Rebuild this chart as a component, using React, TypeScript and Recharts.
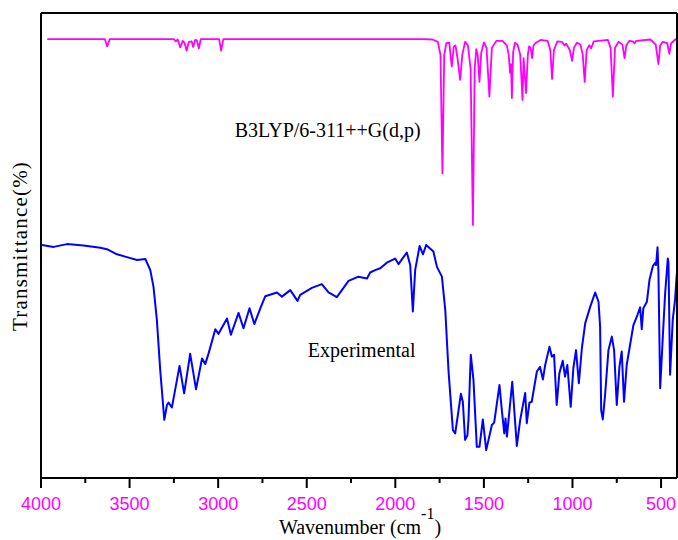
import React from 'react';
import { LineChart, Line, XAxis, YAxis, ReferenceDot } from 'recharts';

// Wavenumber (cm-1), transmittance (arbitrary %)
const calculated: [number, number][] = [
  [3965, 94.4], [3640, 94.4], [3626, 92.8], [3612, 94.4],
  [3250, 94.4], [3239, 93.9], [3228, 94.3], [3214, 92.6], [3200, 94.0], [3190, 93.6],
  [3178, 91.9], [3165, 93.8], [3150, 93.9], [3141, 92.7], [3130, 94.2], [3120, 94.1],
  [3109, 92.4], [3098, 94.4], [2995, 94.4], [2983, 91.9], [2971, 94.4],
  [1840, 94.4], [1790, 94.3], [1760, 93.8], [1745, 91.0], [1734, 65.5], [1724, 91.0],
  [1712, 93.5], [1695, 93.6], [1686, 90.0], [1681, 88.5], [1676, 90.5], [1670, 92.8],
  [1660, 93.0], [1648, 90.0], [1634, 85.6], [1622, 91.0], [1606, 93.8], [1590, 93.0],
  [1575, 88.0], [1562, 54.4], [1552, 88.0], [1543, 92.2], [1535, 91.0], [1525, 85.2],
  [1515, 91.5], [1500, 93.7], [1485, 92.5], [1469, 82.0], [1455, 92.5], [1430, 94.0],
  [1395, 94.0], [1370, 93.0], [1360, 91.0], [1352, 87.1], [1347, 89.0], [1342, 81.7],
  [1335, 91.5], [1325, 93.6], [1310, 93.2], [1295, 91.0], [1282, 81.3], [1276, 90.3],
  [1262, 82.8], [1252, 91.0], [1245, 92.8], [1236, 92.5], [1228, 90.3], [1220, 93.0],
  [1210, 93.5], [1180, 94.2], [1140, 94.0], [1125, 92.0], [1115, 85.8], [1105, 92.0],
  [1085, 93.9], [1060, 93.8], [1045, 93.0], [1035, 93.4], [1015, 92.0], [1002, 89.7],
  [992, 92.5], [975, 93.6], [955, 93.2], [942, 91.0], [931, 85.2], [920, 92.0],
  [905, 93.1], [895, 92.4], [880, 93.9], [800, 94.2], [785, 92.5], [772, 82.0],
  [760, 92.5], [740, 93.8], [718, 93.2], [706, 90.3], [696, 93.0], [680, 94.0],
  [660, 93.9], [650, 93.5], [640, 94.0], [560, 94.3], [530, 93.2], [515, 89.0],
  [505, 93.0], [490, 93.8], [465, 93.5], [453, 91.2], [443, 93.5], [420, 94.3], [411, 94.3],
];

const experimental: [number, number][] = [
  [3994, 50.1], [3929, 49.7], [3853, 50.3], [3760, 50.0], [3665, 49.5], [3628, 49.2],
  [3571, 48.1], [3515, 47.5], [3458, 46.9], [3411, 47.1], [3383, 44.7], [3365, 41.1],
  [3346, 34.0], [3327, 23.2], [3304, 12.5], [3289, 15.7], [3280, 16.2], [3261, 15.2],
  [3218, 24.1], [3192, 18.2], [3158, 26.7], [3125, 19.1], [3091, 25.7], [3073, 24.5],
  [3054, 26.8], [3016, 32.0], [2998, 31.0], [2950, 34.3], [2928, 30.8], [2885, 35.5],
  [2857, 32.2], [2823, 36.5], [2796, 33.1], [2762, 36.5], [2734, 39.1], [2668, 39.9],
  [2640, 39.0], [2593, 40.4], [2552, 38.1], [2537, 39.4], [2471, 40.9], [2415, 41.7],
  [2377, 39.9], [2330, 38.9], [2264, 42.4], [2208, 43.3], [2160, 42.9], [2142, 44.2],
  [2114, 44.7], [2085, 45.1], [2048, 46.3], [2001, 47.2], [1982, 46.0], [1935, 48.5],
  [1916, 45.8], [1901, 35.8], [1888, 44.7], [1863, 49.9], [1844, 48.1], [1826, 50.1],
  [1785, 48.7], [1765, 45.4], [1737, 43.3], [1718, 36.1], [1700, 23.2], [1675, 10.3],
  [1662, 9.6], [1644, 14.3], [1630, 18.1], [1619, 16.4], [1606, 8.2], [1593, 9.2],
  [1587, 12.5], [1574, 26.5], [1559, 21.1], [1540, 6.7], [1525, 6.7], [1506, 12.6],
  [1487, 6.0], [1455, 11.4], [1442, 11.9], [1412, 20.0], [1398, 14.3], [1385, 9.6],
  [1378, 12.8], [1370, 8.9], [1340, 20.7], [1314, 6.9], [1295, 12.5], [1267, 18.3],
  [1258, 11.8], [1243, 16.2], [1230, 16.4], [1201, 22.9], [1183, 23.9], [1167, 21.2],
  [1154, 24.3], [1130, 28.2], [1116, 26.1], [1104, 26.5], [1089, 15.7], [1074, 22.5],
  [1055, 25.2], [1042, 21.8], [1029, 24.3], [1010, 15.3], [995, 23.6], [980, 27.5],
  [964, 20.4], [947, 27.9], [928, 33.3], [900, 36.8], [872, 39.9], [853, 37.9],
  [844, 32.5], [838, 14.6], [829, 12.6], [816, 17.8], [797, 27.5], [778, 30.4],
  [765, 27.5], [750, 15.7], [735, 23.9], [722, 27.2], [709, 16.4], [694, 24.3],
  [675, 28.6], [656, 32.9], [633, 35.1], [618, 36.7], [609, 32.0], [600, 36.5],
  [580, 37.9], [565, 42.7], [546, 45.6], [533, 46.3], [528, 45.8], [520, 49.6],
  [515, 44.7], [505, 19.3], [490, 30.4], [477, 39.7], [462, 47.2], [458, 46.2],
  [449, 22.2], [434, 34.0], [421, 38.3], [411, 44.0],
];

const xTicks = [4000, 3750, 3500, 3250, 3000, 2750, 2500, 2250, 2000, 1750, 1500, 1250, 1000, 750, 500];
const xDomain: [number, number] = [410, 4000];
const calcLabel = 'B3LYP/6-311++G(d,p)';
const expLabel = 'Experimental';

const calcData = calculated.map(([w, t]) => ({ w, t }));
const expData = experimental.map(([w, t]) => ({ w, t }));

const serif = '"Liberation Serif", "Times New Roman", serif';
const sans = '"Liberation Sans", Arial, sans-serif';

const XTick = (props: any) => {
  const { x, y, payload } = props;
  const major = payload.value % 500 === 0;
  return (
    <g>
      <line x1={x} y1={y} x2={x} y2={y + (major ? 10 : 5)} stroke="#000" strokeWidth={2} />
      {major && (
        <text x={x} y={y + 19} dy="0.71em" textAnchor="middle" fill="#ff00ff" fontSize={18} fontFamily={sans}>
          {payload.value}
        </text>
      )}
    </g>
  );
};

const XLabel = () => (
  <text x={360} y={534} textAnchor="middle" fontSize={20} fontFamily={serif} fill="#000">
    Wavenumber (cm
    <tspan dy={-15} fontSize={16}>-1</tspan>
    <tspan dy={15}>)</tspan>
  </text>
);

const YLabel = () => (
  <text x={0} y={0} transform="translate(27,246) rotate(-90)" textAnchor="middle" fontSize={21} letterSpacing={1.2} fontFamily={serif} fill="#000">
    Transmittance(%)
  </text>
);

const TextLabel = (text: string) => (props: any) => {
  const { viewBox } = props;
  const cx = viewBox.x + (viewBox.width || 0) / 2;
  const cy = viewBox.y + (viewBox.height || 0) / 2;
  return (
    <text x={cx} y={cy} dy="0.35em" textAnchor="middle" fontSize={20} fontFamily={serif} fill="#000">
      {text}
    </text>
  );
};

export default function App() {
  return (
    <div style={{ position: 'absolute', left: 0, top: 0, background: '#fff' }}>
      <LineChart width={678} height={540} margin={{ top: 12, right: 0, bottom: 0, left: 0 }}>
        <XAxis
          xAxisId="b"
          type="number"
          dataKey="w"
          domain={xDomain}
          reversed
          ticks={xTicks}
          interval={0}
          tickSize={0}
          tickMargin={0}
          tick={<XTick />}
          tickLine={false}
          axisLine={{ stroke: '#000', strokeWidth: 2 }}
          height={62}
          label={<XLabel />}
        />
        <XAxis
          xAxisId="t"
          orientation="top"
          type="number"
          dataKey="w"
          domain={xDomain}
          reversed
          tick={false}
          tickLine={false}
          axisLine={{ stroke: '#000', strokeWidth: 2 }}
          height={1}
        />
        <YAxis
          yAxisId="l"
          type="number"
          domain={[0, 100]}
          tick={false}
          tickLine={false}
          axisLine={{ stroke: '#000', strokeWidth: 2 }}
          width={41}
          label={<YLabel />}
        />
        <YAxis
          yAxisId="r"
          orientation="right"
          type="number"
          domain={[0, 100]}
          tick={false}
          tickLine={false}
          axisLine={{ stroke: '#000', strokeWidth: 2 }}
          width={1}
        />
        <Line
          xAxisId="b"
          yAxisId="l"
          data={calcData}
          dataKey="t"
          type="linear"
          stroke="#ff00ff"
          strokeWidth={1.8}
          dot={false}
          isAnimationActive={false}
          strokeLinejoin="round"
        />
        <Line
          xAxisId="b"
          yAxisId="l"
          data={expData}
          dataKey="t"
          type="linear"
          stroke="#0000ff"
          strokeWidth={2}
          dot={false}
          isAnimationActive={false}
          strokeLinejoin="round"
        />
        <ReferenceDot xAxisId="b" yAxisId="l" x={2382} y={74.8} r={0} stroke="none" fill="none" label={TextLabel(calcLabel)} />
        <ReferenceDot xAxisId="b" yAxisId="l" x={2190} y={27.5} r={0} stroke="none" fill="none" label={TextLabel(expLabel)} />
      </LineChart>
    </div>
  );
}
